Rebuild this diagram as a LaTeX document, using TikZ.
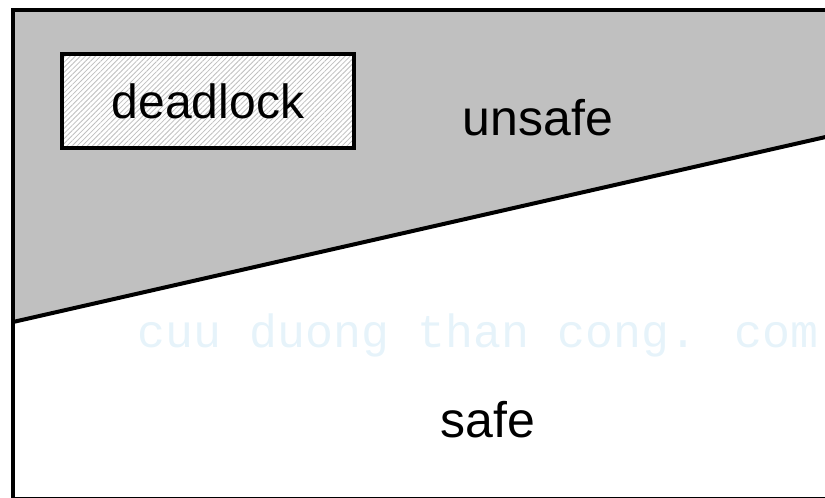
\documentclass[tikz,border=0pt]{standalone}
\usepackage{fontspec}
\setmainfont{Liberation Sans}
\newfontfamily\wmfont{Liberation Mono}
\usetikzlibrary{patterns.meta}
\definecolor{unsafegray}{RGB}{192,192,192}
\definecolor{wmblue}{RGB}{230,243,250}
\tikzset{
  region/.style={font=\fontsize{25}{30}\selectfont, anchor=base},
  deadbox/.style={draw, line width=2pt, minimum width=146pt, minimum height=47pt,
    preaction={fill=white}, pattern={Lines[angle=45,distance=1.8pt,line width=0.4pt]},
    pattern color=black!25, font=\fontsize{24}{29}\selectfont}
}

\begin{document}
\begin{tikzpicture}[x=0.5pt,y=-0.5pt]
  \useasboundingbox (0,0) rectangle (825,498);
  \clip (0,0) rectangle (825,498);
  % corners of the border line
  \coordinate (left) at (13,322);
  \coordinate (right) at (830,136);
  % unsafe area
  \fill[unsafegray] (13,10) -- (830,10) -- (right) -- (left) -- cycle;
  \draw[line width=2pt] (left) -- (right);
  % frame
  \draw[line width=2.3pt] (13,10) rectangle (845,499);
  % watermark
  \node[font=\wmfont\fontsize{23.3}{28}\selectfont, text=wmblue, anchor=base] (mark) at (478,347) {cuu duong than cong. com};
  % labels
  \node[deadbox] (deadlock) at (208,101) {deadlock};
  \node[region] (unsafe) at (538,135) {unsafe};
  \node[region] (safe) at (488,437) {safe};
\end{tikzpicture}
\end{document}
